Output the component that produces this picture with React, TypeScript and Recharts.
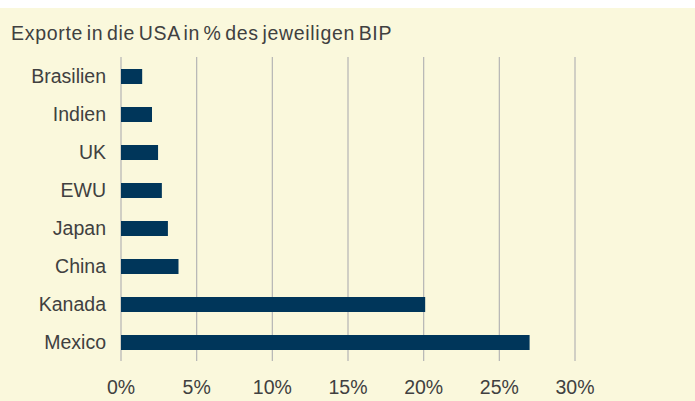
import { BarChart, Bar, XAxis, YAxis, CartesianGrid } from "recharts"

// Exporte in die USA in % des jeweiligen BIP
const countries = ["Brasilien", "Indien", "UK", "EWU", "Japan", "China", "Kanada", "Mexico"]
const exportShare = [1.4, 2.05, 2.45, 2.7, 3.1, 3.8, 20.1, 27.0]
const xTicks = [0, 5, 10, 15, 20, 25, 30]

const data = countries.map((name, i) => ({ name, value: exportShare[i] }))

const font = "'Liberation Sans', Arial, sans-serif"
const textColor = "#404040"

export default function App() {
  return (
    <div
      style={{
        position: "absolute",
        left: 0,
        top: 0,
        width: 695,
        height: 401,
        background: "#ffffff",
        fontFamily: font,
      }}
    >
      <div
        style={{
          position: "absolute",
          left: 0,
          top: 8,
          width: 695,
          height: 393,
          background: "#FAF8DC",
        }}
      >
        <div
          style={{
            position: "absolute",
            left: 11,
            top: 14,
            fontSize: 19.5,
            color: textColor,
            whiteSpace: "nowrap",
            letterSpacing: 0.7,
            wordSpacing: -2.5,
          }}
        >
          Exporte in die USA in % des jeweiligen BIP
        </div>
        <BarChart
          width={695}
          height={393}
          data={data}
          layout="vertical"
          margin={{ top: 49, right: 120, bottom: 10, left: 0 }}
          barCategoryGap={0}
        >
          <CartesianGrid horizontal={false} stroke="#B4B4B4" strokeWidth={1.2} />
          <XAxis
            type="number"
            domain={[0, 30]}
            ticks={xTicks}
            tickFormatter={(v: number) => `${v}%`}
            axisLine={false}
            tickLine={false}
            tickSize={0}
            tickMargin={19}
            height={30}
            tick={{ fill: textColor, fontSize: 19.5, fontFamily: font }}
          />
          <YAxis
            type="category"
            dataKey="name"
            width={121}
            axisLine={false}
            tickLine={false}
            tickSize={0}
            tickMargin={15}
            tick={{ fill: textColor, fontSize: 19.5, fontFamily: font }}
          />
          <Bar dataKey="value" fill="#00365A" barSize={15} isAnimationActive={false} />
        </BarChart>
      </div>
    </div>
  )
}
